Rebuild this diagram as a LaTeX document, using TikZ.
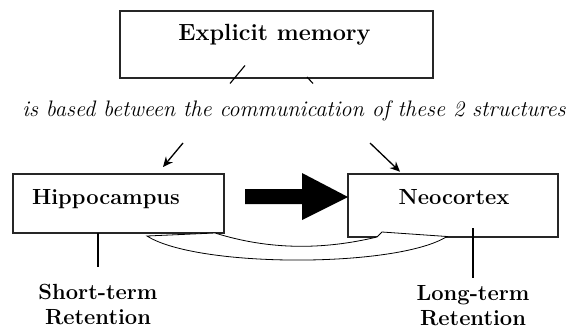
\documentclass[tikz,border=0pt]{standalone}
\usepackage{xcolor}
\usepackage{tikz}
\usetikzlibrary{arrows.meta}
\usetikzlibrary{positioning}

\begin{document}
\begin{tikzpicture}[
    x=1bp,y=1bp,
    outer sep=0pt,node distance=0bp,
    mybox/.style={draw=black!85,line width=1.1bp,rectangle,inner sep=0pt},
    boldtxt/.style={inner sep=0pt,align=center,font=\fontsize{21.9bp}{25.5bp}\selectfont\bfseries},
    slanttxt/.style={inner sep=0pt,font=\fontsize{22.4bp}{26bp}\selectfont\itshape},
    thinarrow/.style={-{Stealth[length=10bp,width=9bp]},line width=1.3bp},
    stem/.style={line width=2.2bp},
    ]
    \useasboundingbox (0,0) rectangle (573,329);

    \node (hippo) at (118.5,125.5)                              [mybox,minimum width=211bp,minimum height=59bp] {};
    \node (neo)   [right=124bp of hippo.north east,anchor=north west] [mybox,minimum width=210bp,minimum height=63bp] {};
    \node (expl)  at (276.5,284.5)                              [mybox,minimum width=313bp,minimum height=67bp] {};

    \node (expltxt)  [boldtxt,font=\fontsize{23.4bp}{26bp}\selectfont\bfseries,anchor=base] at ([xshift=-2bp,yshift=-29.7bp]expl.north) {Explicit memory};
    \node (hippotxt) [boldtxt,anchor=base] at ([xshift=-12.5bp,yshift=-30.3bp]hippo.north) {Hippocampus};
    \node (neotxt)   [boldtxt,anchor=base] at ([xshift=1bp,yshift=-30.3bp]neo.north)      {Neocortex};

    \node (link) [slanttxt,anchor=base] at (294,213) {is based between the communication of these 2 structures};

    % stubs under the top box
    \draw [line width=1.1bp] ([shift={(-46.5,-5.5)}]expl.south) -- ([shift={(-31.5,12.5)}]expl.south);
    \draw [line width=1.1bp] ([shift={(30.5,1)}]expl.south)     -- ([shift={(36.5,-5.5)}]expl.south);

    \draw [thinarrow] ([shift={(64.5,31)}]hippo.north) -- ([shift={(44.5,7)}]hippo.north);
    \draw [thinarrow] ([shift={(-83,31)}]neo.north)    -- ([shift={(-53,2.3)}]neo.north);

    % block arrow
    \coordinate (bigtip) at ([yshift=8.5bp]neo.west);
    \fill (bigtip) -- ++(-46,24) -- ++(0,-16) -- ++(-57,0) -- ++(0,-15) -- ++(57,0) -- ++(0,-16) -- cycle;

    % curved band under the boxes
    \draw [line width=0.8bp,fill=white]
        ([shift={(-77,-3)}]hippo.south east) .. controls +(50,-32) and +(-50,-31.5) .. ([shift={(99,0.5)}]neo.south west)
        -- ([shift={(34,5)}]neo.south west) -- ([shift={(29,0)}]neo.south west)
        .. controls +(-54,-13) and +(54,-17) .. ([shift={(-9,0)}]hippo.south east) -- cycle;

    \draw [stem] ([xshift=-20.5bp]hippo.south) -- ++(0,-34) coordinate (shortend);
    \node (shortlbl) [boldtxt,below=17bp of shortend] {Short-term\\Retention};

    \draw [stem] ([shift={(20,9)}]neo.south) -- ++(0,-50) coordinate (longend);
    \node (longlbl) [boldtxt,below=7bp of longend] {Long-term\\Retention};
\end{tikzpicture}
\end{document}
